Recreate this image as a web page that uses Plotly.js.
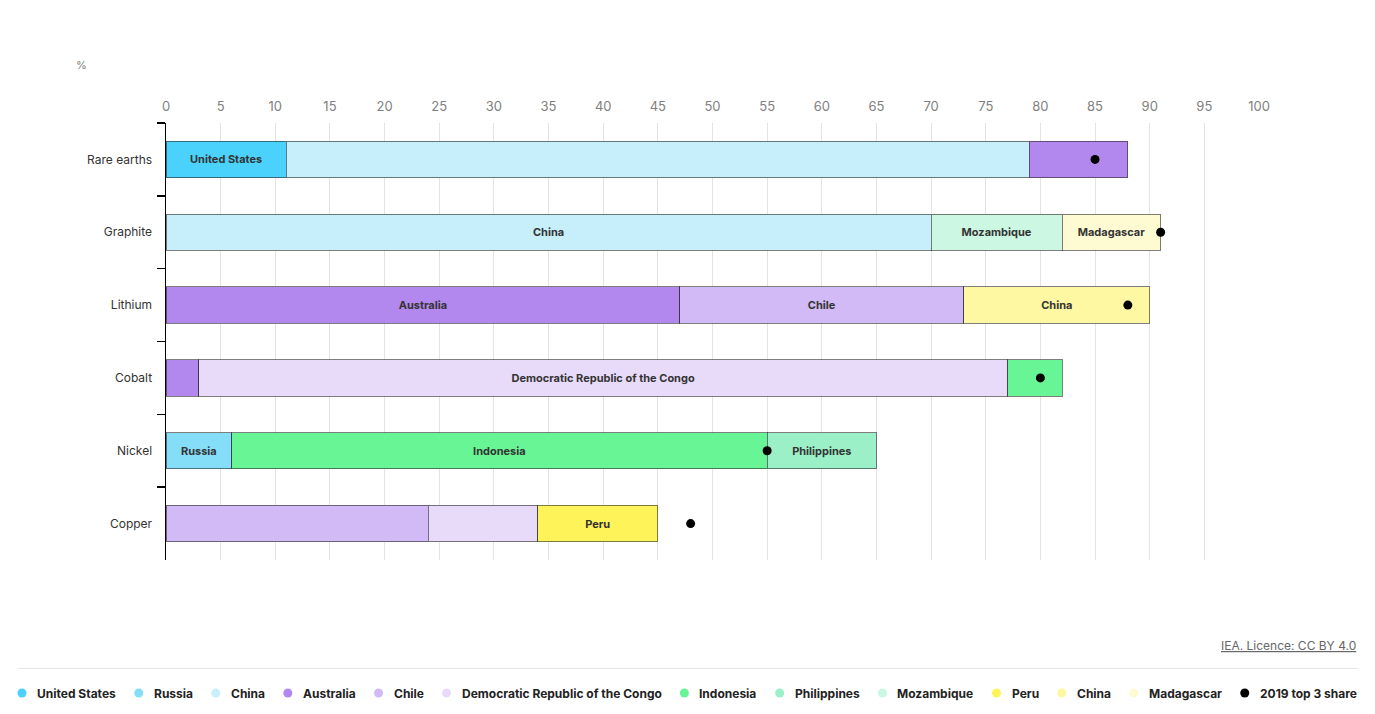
<!DOCTYPE html>
<html>
<head>
<meta charset="utf-8">
<script src="https://cdn.plot.ly/plotly-3.0.1.min.js"></script>
<style>
html,body{margin:0;padding:0;background:#fff;}
#chart{width:1375px;height:714px;}
#measure{position:absolute;visibility:hidden;white-space:nowrap;font-family:Inter,'Noto Sans',sans-serif;font-size:12px;font-weight:700;}
</style>
</head>
<body>
<div id="chart"></div>
<span id="measure"></span>
<script>
// ---- data ----
var minerals = ["Rare earths", "Graphite", "Lithium", "Cobalt", "Nickel", "Copper"];
var countries = ["United States", "Russia", "China", "Australia", "Chile",
  "Democratic Republic of the Congo", "Indonesia", "Philippines", "Mozambique",
  "Peru", "China", "Madagascar"];
var usShare          = [11, null, null, null, null, null];
var russiaShare      = [null, null, null, null, 6, null];
var chinaBlueShare   = [68, 70, null, null, null, null];
var australiaShare   = [9, null, 47, 3, null, null];
var chileShare       = [null, null, 26, null, null, 24];
var drcShare         = [null, null, null, 74, null, 10];
var indonesiaShare   = [null, null, null, 5, 49, null];
var philippinesShare = [null, null, null, null, 10, null];
var mozambiqueShare  = [null, 12, null, null, null, null];
var peruShare        = [null, null, null, null, null, 11];
var chinaYellowShare = [null, null, 17, null, null, null];
var madagascarShare  = [null, 9, null, null, null, null];
var top3Share2019    = [85, 91, 88, 80, 55, 48];
var top3Name = "2019 top 3 share";
// which segments carry a name label
var usLabel          = [1, 0, 0, 0, 0, 0];
var russiaLabel      = [0, 0, 0, 0, 1, 0];
var chinaBlueLabel   = [0, 1, 0, 0, 0, 0];
var australiaLabel   = [0, 0, 1, 0, 0, 0];
var chileLabel       = [0, 0, 1, 0, 0, 0];
var drcLabel         = [0, 0, 0, 1, 0, 0];
var indonesiaLabel   = [0, 0, 0, 0, 1, 0];
var philippinesLabel = [0, 0, 0, 0, 1, 0];
var mozambiqueLabel  = [0, 1, 0, 0, 0, 0];
var peruLabel        = [0, 0, 0, 0, 0, 1];
var chinaYellowLabel = [0, 0, 1, 0, 0, 0];
var madagascarLabel  = [0, 1, 0, 0, 0, 0];
var xTicks = [0,5,10,15,20,25,30,35,40,45,50,55,60,65,70,75,80,85,90,95,100];

// ---- styling ----
var colors = ["#4ad2fc", "#85def8", "#c6eefb", "#b388ee", "#d1baf5", "#e8dbfa",
  "#67f595", "#9bf0c8", "#ccf7e2", "#fef459", "#fef8a2", "#fefbd3"];
var shares = [usShare, russiaShare, chinaBlueShare, australiaShare, chileShare, drcShare,
  indonesiaShare, philippinesShare, mozambiqueShare, peruShare, chinaYellowShare, madagascarShare];
var labels = [usLabel, russiaLabel, chinaBlueLabel, australiaLabel, chileLabel, drcLabel,
  indonesiaLabel, philippinesLabel, mozambiqueLabel, peruLabel, chinaYellowLabel, madagascarLabel];

var FONT = "Inter, 'Noto Sans', sans-serif";
var W = 1375, H = 714, ML = 166, MR = 116, MT = 123, MB = 154;
var PW = W - ML - MR, PH = H - MT - MB;
function px2paperX(px) { return (px - ML) / PW; }
function px2paperY(py) { return (H - MB - py) / PH; }

function draw() {
  var traces = [];
  countries.forEach(function (name, i) {
    traces.push({
      type: "bar", orientation: "h", name: name,
      x: shares[i], y: minerals,
      text: labels[i].map(function (f) { return f ? name : ""; }),
      textposition: "inside", insidetextanchor: "middle",
      textfont: {family: FONT, size: 11, color: "#333333", weight: 700},
      marker: {color: colors[i], line: {color: "rgba(40,40,40,0.6)", width: 1}},
      showlegend: false, hoverinfo: "skip"
    });
  });
  traces.push({
    type: "scatter", mode: "markers", name: top3Name,
    x: top3Share2019, y: minerals,
    marker: {color: "#000000", size: 9},
    showlegend: false, hoverinfo: "skip", cliponaxis: false
  });

  // ---- custom legend (circle + bold label), laid out by measured text width ----
  var legendNames = countries.concat([top3Name]);
  var legendColors = colors.concat(["#000000"]);
  var meas = document.getElementById("measure");
  var widths = legendNames.map(function (n) { meas.textContent = n; return meas.getBoundingClientRect().width; });
  var total = widths.reduce(function (a, b) { return a + b; }, 0) + 38 * legendNames.length;
  var avail = 1358 - 18 + 25;
  var gap = 25;
  if (total > avail) gap = 25 - (total - avail) / legendNames.length;

  var shapes = [
    {type: "line", xref: "paper", yref: "paper", x0: px2paperX(18), x1: px2paperX(1358),
      y0: px2paperY(668.5), y1: px2paperY(668.5), line: {color: "#e6e6e6", width: 1}}
  ];
  var annotations = [
    {text: "%", xref: "paper", yref: "paper", x: px2paperX(81), y: px2paperY(65), showarrow: false,
      xanchor: "center", yanchor: "middle", font: {family: FONT, size: 11, color: "#808080"}},
    {text: "<u>IEA. Licence: CC BY 4.0</u>", xref: "paper", yref: "paper", x: px2paperX(1358),
      y: px2paperY(645), showarrow: false, xanchor: "right", yanchor: "middle",
      font: {family: FONT, size: 12, color: "#666666"}}
  ];
  var cx = 22, ly = 693;
  legendNames.forEach(function (name, i) {
    shapes.push({type: "circle", xref: "paper", yref: "paper", xsizemode: "pixel", ysizemode: "pixel",
      xanchor: px2paperX(cx), yanchor: px2paperY(ly), x0: -4.5, x1: 4.5, y0: -4.5, y1: 4.5,
      fillcolor: legendColors[i], line: {width: 0}});
    annotations.push({text: name, xref: "paper", yref: "paper", x: px2paperX(cx + 13), y: px2paperY(ly),
      xanchor: "left", yanchor: "middle", showarrow: false,
      font: {family: FONT, size: 12, color: "#222222", weight: 700}});
    cx += 13 + widths[i] + gap;
  });

  var layout = {
    width: W, height: H,
    margin: {l: ML, r: MR, t: MT, b: MB},
    paper_bgcolor: "#ffffff", plot_bgcolor: "#ffffff",
    font: {family: FONT, color: "#333333"},
    barmode: "stack", bargap: 0.5, showlegend: false,
    xaxis: {
      side: "top", range: [0, 100], tickvals: xTicks, ticktext: xTicks.map(String),
      showgrid: true, gridcolor: "#e3e3e3", gridwidth: 1, zeroline: false,
      showline: false, ticks: "", ticklabelstandoff: 8,
      tickfont: {family: FONT, size: 13, color: "#808080"}, fixedrange: true
    },
    yaxis: {
      categoryorder: "array", categoryarray: minerals, autorange: "reversed",
      tickson: "boundaries", ticks: "outside", ticklen: 8, tickcolor: "#000000", tickwidth: 1.5,
      showline: true, linecolor: "#000000", linewidth: 1.5, showgrid: false, zeroline: false,
      ticklabelstandoff: 10,
      tickfont: {family: FONT, size: 12, color: "#333333"}, fixedrange: true
    },
    annotations: annotations,
    shapes: shapes
  };

  Plotly.newPlot("chart", traces, layout, {displayModeBar: false, staticPlot: true});
}

if (document.fonts && document.fonts.load) {
  document.fonts.load("700 12px Inter").then(draw, draw);
} else {
  draw();
}
</script>
</body>
</html>
